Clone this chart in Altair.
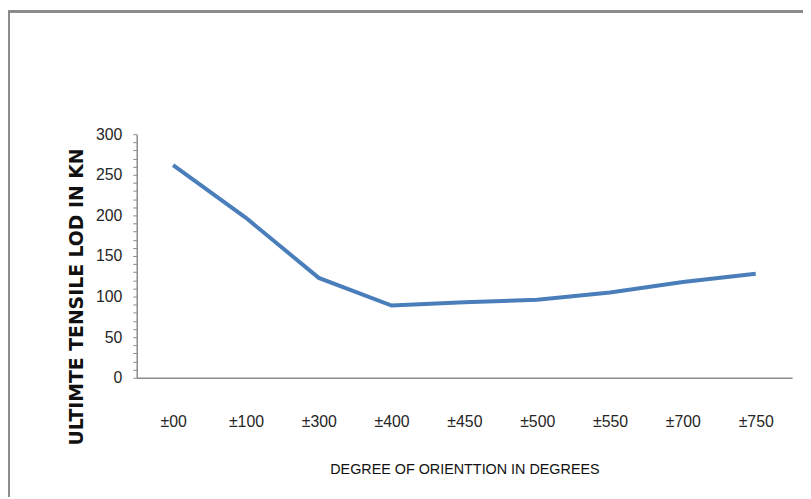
import altair as alt
import pandas as pd

categories = ["±00", "±100", "±300", "±400", "±450", "±500", "±550", "±700", "±750"]
loads = [262, 197, 123, 89, 93, 96, 105, 118, 128]

df = pd.DataFrame({"deg": categories, "load": loads})

W, H = 662, 246
PL, PT, PR, PB = 130, 125, 11, 120
SANS = "Liberation Sans, Arial, sans-serif"

line = alt.Chart(df).mark_line(color="#4a7ebb", strokeWidth=4).encode(
    x=alt.X("deg:N", sort=categories,
            scale=alt.Scale(paddingInner=0, paddingOuter=0.0),
            axis=alt.Axis(title="DEGREE OF ORIENTTION IN DEGREES", labelAngle=0,
                          ticks=False, labelPadding=36, labelFontSize=16,
                          labelFont=SANS, labelColor="#262626",
                          domainColor="#8c8c8c", domainWidth=1.5,
                          titleFont=SANS, titleFontSize=14.5, titleFontWeight="normal",
                          titleColor="#111111", titleY=93, titleBaseline="middle")),
    y=alt.Y("load:Q", scale=alt.Scale(domain=[0, 300], nice=False),
            axis=alt.Axis(title="ULTIMTE TENSILE LOD IN KN", values=list(range(0, 301, 10)),
                          labelExpr="datum.value % 50 == 0 ? datum.label : ''",
                          labelOverlap=False, grid=False, tickSize=4,
                          tickColor="#8c8c8c", domainColor="#8c8c8c", domainWidth=1.5,
                          labelPadding=11, labelFontSize=16, labelFont=SANS,
                          labelColor="#262626",
                          titleFont="DejaVu Sans", titleFontSize=19, titleFontWeight="bold",
                          titleColor="#111111", titleAngle=270, titleX=-61, titleY=164,
                          titleAlign="center", titleBaseline="middle")),
)

frame_left = alt.Chart(df).mark_rule(color="#8c8c8c", strokeWidth=2).encode(
    x=alt.value(-PL + 1), y=alt.value(-PT + 1), y2=alt.value(H + PB)
)
frame_top = alt.Chart(df).mark_rule(color="#8c8c8c", strokeWidth=2).encode(
    x=alt.value(-PL), x2=alt.value(W + PR), y=alt.value(-PT + 1)
)

chart = alt.layer(frame_left, frame_top, line).properties(
    width=W, height=H,
    autosize=alt.AutoSizeParams(type="none"),
    padding={"left": PL, "top": PT, "right": PR, "bottom": PB},
).configure_view(stroke=None)

chart.save("out.html", embed_options={"renderer": "svg", "actions": False})
